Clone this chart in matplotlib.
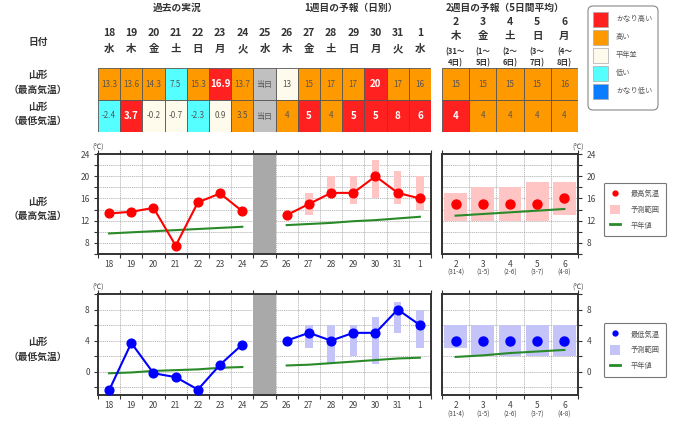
import numpy as np
import matplotlib.pyplot as plt
from matplotlib.patches import Rectangle, Patch, FancyBboxPatch
from matplotlib.lines import Line2D
import matplotlib.transforms as mtrans

plt.rcParams['font.family'] = ['Noto Sans CJK JP', 'DejaVu Sans']

# ---- data ----
days1 = ['18', '19', '20', '21', '22', '23', '24', '25', '26', '27', '28', '29', '30', '31', '1']
wdays1 = ['水', '木', '金', '土', '日', '月', '火', '水', '木', '金', '土', '日', '月', '火', '水']
days2 = ['2', '3', '4', '5', '6']
wdays2 = ['木', '金', '土', '日', '月']
span2 = ['(31～\n4日)', '(1～\n5日)', '(2～\n6日)', '(3～\n7日)', '(4～\n8日)']
span2_short = ['(31-4)', '(1-5)', '(2-6)', '(3-7)', '(4-8)']

# table (values / class)
tmax1 = ['13.3', '13.6', '14.3', '7.5', '15.3', '16.9', '13.7', '当日', '13', '15', '17', '17', '20', '17', '16']
cmax1 = ['H', 'H', 'H', 'L', 'H', 'HH', 'H', 'T', 'N', 'H', 'H', 'H', 'HH', 'H', 'H']
tmin1 = ['-2.4', '3.7', '-0.2', '-0.7', '-2.3', '0.9', '3.5', '当日', '4', '5', '4', '5', '5', '8', '6']
cmin1 = ['L', 'HH', 'N', 'N', 'L', 'N', 'H', 'T', 'H', 'HH', 'H', 'HH', 'HH', 'HH', 'HH']
tmax2 = ['15', '15', '15', '15', '16']
cmax2 = ['H', 'H', 'H', 'H', 'H']
tmin2 = ['4', '4', '4', '4', '4']
cmin2 = ['HH', 'H', 'H', 'H', 'H']

# chart: max temperature
max_obs = [13.3, 13.6, 14.3, 7.5, 15.3, 16.9, 13.7]
max_fc = [13, 15, 17, 17, 20, 17, 16]
max_fc_lo = [np.nan, 13, 17, 15, 16, 15, 14]
max_fc_hi = [np.nan, 17, 20, 20, 23, 21, 20]
max_nrm_obs = [9.7, 9.9, 10.1, 10.3, 10.5, 10.7, 10.9]
max_nrm_fc = [11.2, 11.4, 11.6, 11.9, 12.1, 12.4, 12.7]
max_w2 = [15, 15, 15, 15, 16]
max_w2_lo = [12, 12, 12, 12, 13]
max_w2_hi = [17, 18, 18, 19, 19]
max_nrm_w2 = [12.9, 13.2, 13.5, 13.8, 14.1]

# chart: min temperature
min_obs = [-2.4, 3.7, -0.2, -0.7, -2.3, 0.9, 3.5]
min_fc = [4, 5, 4, 5, 5, 8, 6]
min_fc_lo = [np.nan, 3, 1, 2, 1, 5, 3]
min_fc_hi = [np.nan, 6, 6, 6, 7, 9, 8]
min_nrm_obs = [-0.2, -0.1, 0.1, 0.2, 0.3, 0.5, 0.6]
min_nrm_fc = [0.8, 0.9, 1.1, 1.3, 1.5, 1.7, 1.8]
min_w2 = [4, 4, 4, 4, 4]
min_w2_lo = [3, 2, 2, 2, 2]
min_w2_hi = [6, 6, 6, 6, 6]
min_nrm_w2 = [1.9, 2.1, 2.4, 2.6, 2.8]

cls_color = {'HH': '#ff2020', 'H': '#ff9900', 'N': '#fffbec', 'L': '#55ffff', 'LL': '#0a7cff', 'T': '#c0c0c0'}
legend_cls = ['HH', 'H', 'N', 'L', 'LL']
legend_txt = ['かなり高い', '高い', '平年並', '低い', 'かなり低い']

W, H = 680, 424
fig = plt.figure(figsize=(W / 100, H / 100), dpi=100)


def box(x0, y0, x1, y1):
    return [x0 / W, 1 - y1 / H, (x1 - x0) / W, (y1 - y0) / H]


def ftext(x, y, s, **kw):
    fig.text(x / W, 1 - y / H, s, ha='center', va='center', **kw)


TXT = '#333333'

# ---- headers ----
ftext(177, 8, '過去の実況', fontsize=7, fontweight='bold', color=TXT)
ftext(351, 8, '1週目の予報（日別）', fontsize=7, fontweight='bold', color=TXT)
ftext(505, 8, '2週目の予報（5日間平均）', fontsize=7, fontweight='bold', color=TXT)
ftext(38, 42, '日付', fontsize=7, fontweight='bold', color=TXT)
ftext(38, 75, '山形', fontsize=7, fontweight='bold', color=TXT)
ftext(38, 90, '（最高気温）', fontsize=7, fontweight='bold', color=TXT)
ftext(38, 107, '山形', fontsize=7, fontweight='bold', color=TXT)
ftext(38, 121, '（最低気温）', fontsize=7, fontweight='bold', color=TXT)
ftext(38, 202, '山形', fontsize=7, fontweight='bold', color=TXT)
ftext(38, 216, '（最高気温）', fontsize=7, fontweight='bold', color=TXT)
ftext(38, 342, '山形', fontsize=7, fontweight='bold', color=TXT)
ftext(38, 357, '（最低気温）', fontsize=7, fontweight='bold', color=TXT)


# ---- tables ----
def draw_table(ax, rows, classes, days, wdays, subs=None):
    n = len(days)
    ax.set_xlim(-0.5, n - 0.5)
    ax.set_ylim(2, 0)
    ax.axis('off')
    for r, (vals, cls) in enumerate(zip(rows, classes)):
        for i, (v, c) in enumerate(zip(vals, cls)):
            ax.add_patch(Rectangle((i - 0.5, r), 1, 1, facecolor=cls_color[c],
                                   edgecolor='#555555', lw=0.6))
            hot = c == 'HH'
            ax.text(i, r + 0.5, v, ha='center', va='center',
                    fontsize=7 if hot else 5.8, fontweight='bold' if hot else 'normal',
                    color='white' if hot else '#555555')
    tr = mtrans.blended_transform_factory(ax.transData, fig.transFigure)
    for i in range(n):
        if subs is None:
            fig.text(i, 1 - 33 / H, days[i], transform=tr, ha='center', va='center',
                     fontsize=7.5, fontweight='bold', color=TXT)
            fig.text(i, 1 - 49 / H, wdays[i], transform=tr, ha='center', va='center',
                     fontsize=7.5, fontweight='bold', color=TXT)
        else:
            fig.text(i, 1 - 22 / H, days[i], transform=tr, ha='center', va='center',
                     fontsize=7.5, fontweight='bold', color=TXT)
            fig.text(i, 1 - 36 / H, wdays[i], transform=tr, ha='center', va='center',
                     fontsize=7.5, fontweight='bold', color=TXT)
            fig.text(i, 1 - 57 / H, subs[i], transform=tr, ha='center', va='center',
                     fontsize=5.5, fontweight='bold', color=TXT, linespacing=1.3)


t1 = fig.add_axes(box(98, 68, 431, 132))
draw_table(t1, [tmax1, tmin1], [cmax1, cmin1], days1, wdays1)
t2 = fig.add_axes(box(442, 68, 578, 132))
draw_table(t2, [tmax2, tmin2], [cmax2, cmin2], days2, wdays2, span2)

# ---- colour legend ----
lg = fig.add_axes(box(587, 5, 659, 111))
lg.set_xlim(0, 72)
lg.set_ylim(106, 0)
lg.axis('off')
lg.add_patch(FancyBboxPatch((1, 1), 70, 104, boxstyle='round,pad=0,rounding_size=5',
                            facecolor='white', edgecolor='#888888', lw=0.8))
for k, (c, s) in enumerate(zip(legend_cls, legend_txt)):
    yc = 14 + k * 18
    lg.add_patch(Rectangle((6, yc - 7), 15, 15, facecolor=cls_color[c], edgecolor='#aaaaaa', lw=0.5))
    lg.text(29, yc + 0.5, s, ha='left', va='center', fontsize=5.2, color='#555555')


# ---- charts ----
def style(ax, n, ylim, major, minor, right=False):
    ax.set_xlim(-0.5, n - 0.5)
    ax.set_ylim(*ylim)
    ax.set_xticks(np.arange(-0.5, n, 1))
    ax.set_xticklabels([])
    ax.set_xticks(np.arange(n), minor=True)
    ax.set_yticks(major)
    ax.set_yticks(minor, minor=True)
    ax.tick_params(axis='x', which='major', length=3, width=0.8, top=True, color='#333333')
    ax.tick_params(axis='x', which='minor', length=0, labelsize=6, labelcolor='#444444', pad=4)
    ax.tick_params(axis='y', which='both', length=3, width=0.8, labelsize=6,
                   labelcolor='#444444', color='#333333', pad=3)
    if right:
        ax.yaxis.tick_right()
        ax.tick_params(axis='y', which='both', left=False, right=True)
    ax.grid(which='major', axis='x', color='#aaaaaa', lw=0.5, ls=(0, (2, 1)))
    ax.grid(which='both', axis='y', color='#aaaaaa', lw=0.5, ls=(0, (2, 1)))
    ax.set_axisbelow(True)
    for s in ax.spines.values():
        s.set_linewidth(1.4)
        s.set_color('#333333')


def draw_chart(y0, y1, ylim, major, minor, obs, fc, lo, hi, nrm_obs, nrm_fc,
               w2, w2_lo, w2_hi, nrm_w2, col, rng_col, label):
    a = fig.add_axes(box(98, y0, 431, y1))
    style(a, 15, ylim, major, minor)
    a.set_xticklabels(days1, minor=True)
    a.axvspan(6.5, 7.5, color='#a9a9a9', zorder=1.5, lw=0)
    xf = np.arange(8, 15)
    a.bar(xf, np.array(hi) - np.array(lo), bottom=lo, width=0.33, color=rng_col, zorder=2)
    a.plot(np.arange(7), nrm_obs, color='#2a8a2a', lw=1.5, zorder=3)
    a.plot(xf, nrm_fc, color='#2a8a2a', lw=1.5, zorder=3)
    a.plot(np.arange(7), obs, color=col, lw=1.5, marker='o', ms=6.3, zorder=4)
    a.plot(xf, fc, color=col, lw=1.5, marker='o', ms=6.3, zorder=4)
    a.text(-0.5, 1.02, '(℃)', transform=mtrans.blended_transform_factory(a.transData, a.transAxes),
           ha='center', va='bottom', fontsize=5, color='#444444')

    b = fig.add_axes(box(442, y0, 578, y1))
    style(b, 5, ylim, major, minor, right=True)
    b.set_xticklabels(days2, minor=True)
    x2 = np.arange(5)
    b.bar(x2, np.array(w2_hi) - np.array(w2_lo), bottom=w2_lo, width=0.84, color=rng_col, zorder=2)
    b.plot(x2, nrm_w2, color='#2a8a2a', lw=1.5, zorder=3)
    b.plot(x2, w2, ls='none', color=col, marker='o', ms=6.5, zorder=4)
    b.text(1.0, 1.02, '(℃)', transform=b.transAxes, ha='center', va='bottom',
           fontsize=5, color='#444444')
    tr = mtrans.blended_transform_factory(b.transData, b.transAxes)
    for i, s in enumerate(span2_short):
        b.text(i, -0.19, s, transform=tr, ha='center', va='center', fontsize=4.5, color='#444444')

    handles = [Line2D([], [], ls='none', marker='o', ms=3.5, color=col),
               Patch(facecolor=rng_col, edgecolor='none'),
               Line2D([], [], color='#2a8a2a', lw=2)]
    leg = b.legend(handles, [label, '予測範囲', '平年値'], loc='center left',
                   bbox_to_anchor=(1.19, 0.445), fontsize=5.2, frameon=True, fancybox=True,
                   edgecolor='#555555', handlelength=1.3, handleheight=1.6, handletextpad=1.5,
                   labelspacing=0.9, borderpad=0.9, borderaxespad=0)
    for t in leg.get_texts():
        t.set_color('#555555')
    leg.get_frame().set_linewidth(0.8)


draw_chart(154, 254, (6, 24), [8, 12, 16, 20, 24], [6, 10, 14, 18, 22],
           max_obs, max_fc, max_fc_lo, max_fc_hi, max_nrm_obs, max_nrm_fc,
           max_w2, max_w2_lo, max_w2_hi, max_nrm_w2, '#ff0000', '#ffc4c4', '最高気温')
draw_chart(294, 395, (-3, 10), [0, 4, 8], [-2, 2, 6, 10],
           min_obs, min_fc, min_fc_lo, min_fc_hi, min_nrm_obs, min_nrm_fc,
           min_w2, min_w2_lo, min_w2_hi, min_nrm_w2, '#0000ff', '#c4c4f8', '最低気温')

fig.savefig('out.png', dpi=100)
